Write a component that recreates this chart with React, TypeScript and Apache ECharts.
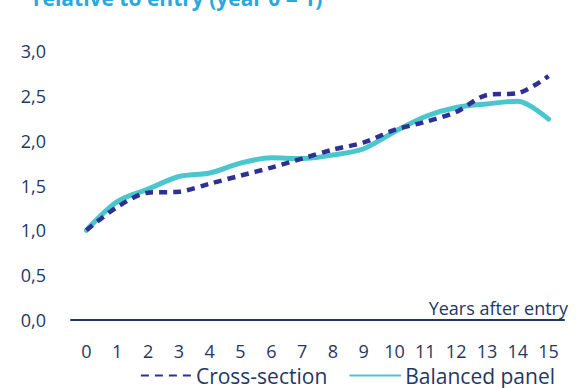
import React, { useEffect, useRef } from "react";
import * as echarts from "echarts";

const years = ["0", "1", "2", "3", "4", "5", "6", "7", "8", "9", "10", "11", "12", "13", "14", "15"];
const crossSection = [1.0, 1.26, 1.42, 1.43, 1.52, 1.61, 1.70, 1.80, 1.90, 1.98, 2.12, 2.21, 2.32, 2.51, 2.53, 2.72];
const balancedPanel = [1.0, 1.32, 1.46, 1.60, 1.64, 1.75, 1.81, 1.80, 1.84, 1.91, 2.10, 2.27, 2.37, 2.41, 2.44, 2.24];
const titleText = "relative to entry (year 0 = 1)";
const xAxisName = "Years after entry";

const FONT = "'Open Sans', 'Noto Sans', sans-serif";
const NAVY = "#1F3864";

export default function App() {
  const ref = useRef<HTMLDivElement>(null);
  useEffect(() => {
    if (!ref.current) return;
    const chart = echarts.init(ref.current, undefined, { renderer: "svg" });
    chart.setOption({
      animation: false,
      grid: { left: 71, right: 20, top: 51, bottom: 68 },
      graphic: [
        {
          type: "text",
          x: 33,
          y: 8,
          style: {
            text: titleText,
            fill: "#29A8E0",
            font: `bold 21px ${FONT}`,
            verticalAlign: "bottom",
          },
        },
      ],
      legend: {
        bottom: -3,
        right: 24,
        itemWidth: 50,
        itemHeight: 10,
        itemGap: 22,
        itemStyle: { opacity: 0 },
        textStyle: { color: NAVY, fontSize: 21, fontFamily: FONT },
        data: ["Cross-section", "Balanced panel"],
      },
      xAxis: {
        type: "category",
        data: years,
        boundaryGap: true,
        name: xAxisName,
        nameLocation: "end",
        nameGap: 4,
        nameTextStyle: {
          color: NAVY,
          fontSize: 18,
          fontFamily: FONT,
          align: "right",
          verticalAlign: "bottom",
          padding: [0, 0, 3, 0],
        },
        axisLine: { lineStyle: { color: NAVY, width: 2 } },
        axisTick: { show: false },
        axisLabel: { color: NAVY, fontSize: 18, fontFamily: FONT, margin: 22, interval: 0 },
      },
      yAxis: {
        type: "value",
        min: 0,
        max: 3,
        interval: 0.5,
        axisLine: { show: false },
        axisTick: { show: false },
        splitLine: { show: false },
        axisLabel: {
          color: NAVY,
          fontSize: 18,
          fontFamily: FONT,
          margin: 25,
          formatter: (v: number) => v.toFixed(1).replace(".", ","),
        },
      },
      series: [
        {
          name: "Cross-section",
          type: "line",
          data: crossSection,
          smooth: 0.3,
          symbol: "none",
          lineStyle: { color: "#2E3192", width: 4.5, type: [8, 6] },
          itemStyle: { color: "#2E3192" },
          z: 3,
        },
        {
          name: "Balanced panel",
          type: "line",
          data: balancedPanel,
          smooth: 0.3,
          symbol: "none",
          lineStyle: { color: "#4BC6CC", width: 5, cap: "round" },
          itemStyle: { color: "#4BC6CC" },
          z: 2,
        },
      ],
    });
    return () => chart.dispose();
  }, []);
  return (
    <div
      ref={ref}
      style={{ position: "fixed", left: 0, top: 0, width: 584, height: 388, background: "#fff" }}
    />
  );
}
